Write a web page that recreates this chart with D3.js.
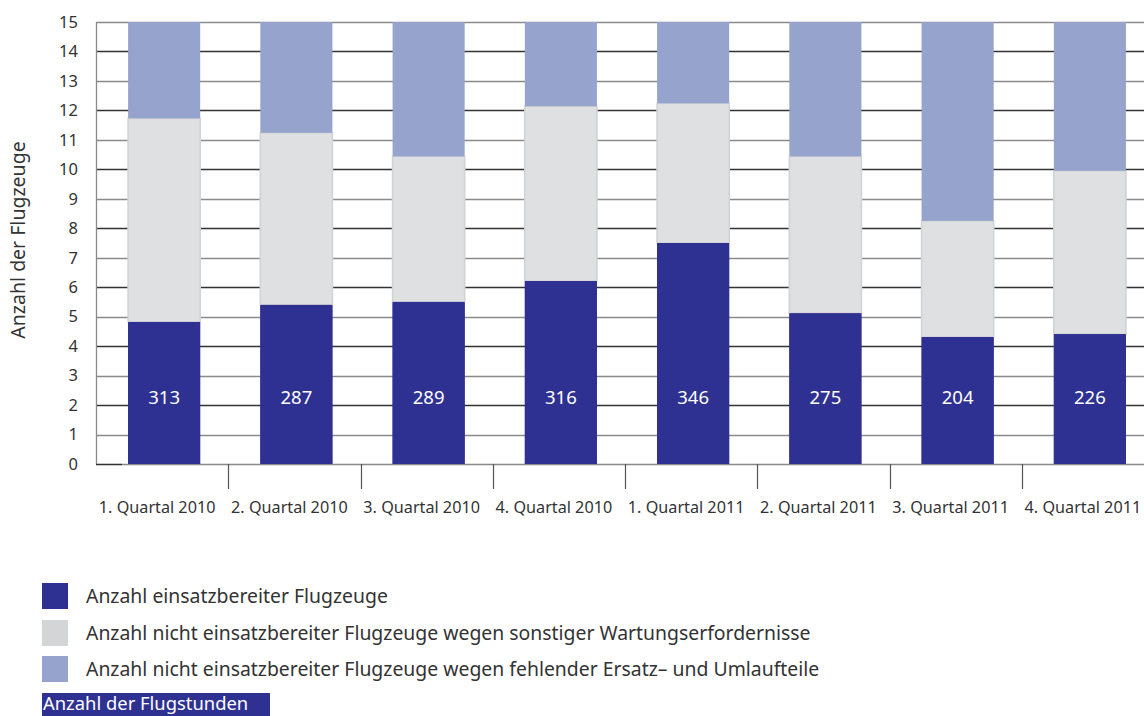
<!DOCTYPE html>
<html>
<head>
<meta charset="utf-8">
<script src="https://cdn.jsdelivr.net/npm/d3@7/dist/d3.min.js"></script>
<style>
  html, body { margin: 0; padding: 0; background: #fff; }
  svg { display: block; font-family: "Noto Sans", sans-serif; }
</style>
</head>
<body>
<svg id="chart" width="1144" height="716"></svg>
<script>
const categories = ["1. Quartal 2010", "2. Quartal 2010", "3. Quartal 2010", "4. Quartal 2010",
                    "1. Quartal 2011", "2. Quartal 2011", "3. Quartal 2011", "4. Quartal 2011"];
const ready       = [4.82, 5.40, 5.50, 6.21, 7.50, 5.12, 4.31, 4.41];
const maintenance = [6.91, 5.84, 4.94, 5.93, 4.74, 5.32, 3.94, 5.54];
const parts       = [3.27, 3.76, 4.56, 2.86, 2.76, 4.56, 6.75, 5.05];
const flightHours = [313, 287, 289, 316, 346, 275, 204, 226];
const yTicks = [0,1,2,3,4,5,6,7,8,9,10,11,12,13,14,15];
const seriesNames = ["Anzahl einsatzbereiter Flugzeuge",
  "Anzahl nicht einsatzbereiter Flugzeuge wegen sonstiger Wartungserfordernisse",
  "Anzahl nicht einsatzbereiter Flugzeuge wegen fehlender Ersatz\u2013 und Umlaufteile"];
const hoursLabel = "Anzahl der Flugstunden";
const yTitle = "Anzahl der Flugzeuge";

const colors = ["#2e3192", "#dfe0e2", "#96a4cd"];
const legendColors = ["#2e3192", "#d4d5d7", "#96a4cd"];

const svg = d3.select("#chart");
const mLeft = 96, mRight = 1154, mTop = 22, mBottom = 464;

const x = d3.scaleBand().domain(categories).range([mLeft + 2, mRight + 2]).paddingInner(0.455).paddingOuter(0.2275);
const y = d3.scaleLinear().domain([0, 15]).range([mBottom, mTop]);

// gridlines
svg.append("g").selectAll("line").data(yTicks).join("line")
  .attr("x1", mLeft).attr("x2", 1144)
  .attr("y1", d => Math.round(y(d)) + 0.5).attr("y2", d => Math.round(y(d)) + 0.5)
  .attr("stroke", d => d % 2 === 0 && d !== 0 ? "#333" : "#8a8a8a")
  .attr("stroke-width", 1.3);

// left border
svg.append("line").attr("x1", mLeft + 0.5).attr("x2", mLeft + 0.5)
  .attr("y1", y(15)).attr("y2", y(0)).attr("stroke", "#8a8a8a").attr("stroke-width", 1.3);
svg.append("line").attr("x1", mLeft).attr("x2", mLeft + 26)
  .attr("y1", Math.round(y(0)) + 0.5).attr("y2", Math.round(y(0)) + 0.5).attr("stroke", "#333").attr("stroke-width", 1.3);

// stacked data
const rows = categories.map((c, i) => ({cat: c, ready: ready[i], maintenance: maintenance[i], parts: parts[i]}));
const stack = d3.stack().keys(["ready", "maintenance", "parts"]);
const stacked = stack(rows);

const g = svg.append("g");
stacked.forEach((layer, li) => {
  g.append("g").selectAll("rect").data(layer).join("rect")
    .attr("x", d => x(d.data.cat))
    .attr("width", x.bandwidth())
    .attr("y", d => y(d[1]))
    .attr("height", d => y(d[0]) - y(d[1]))
    .attr("fill", colors[li])
    .attr("stroke", li === 1 ? "#d2d3d5" : "none")
    .attr("stroke-width", li === 1 ? 1.6 : 0);
});
// redraw dark segments on top so the light stroke doesn't overlap them
g.append("g").selectAll("rect").data(stacked[0]).join("rect")
  .attr("x", d => x(d.data.cat)).attr("width", x.bandwidth())
  .attr("y", d => y(d[1])).attr("height", d => y(d[0]) - y(d[1]))
  .attr("fill", colors[0]);

// value labels
g.append("g").selectAll("text").data(flightHours).join("text")
  .attr("x", (d, i) => x(categories[i]) + x.bandwidth() / 2)
  .attr("y", y(2.25))
  .attr("dy", "0.36em")
  .attr("text-anchor", "middle")
  .attr("fill", "#fff")
  .attr("font-size", 18.5)
  .text(d => d);

// y axis labels
const yAxis = d3.axisLeft(y).tickValues(yTicks).tickSize(0).tickPadding(18);
const ya = svg.append("g").attr("transform", `translate(${mLeft},0)`).call(yAxis);
ya.select(".domain").remove();
ya.selectAll("text").attr("font-size", 16.5).attr("fill", "#333").attr("font-family", "Noto Sans");

// x axis: labels at band centres, ticks at band boundaries
const xAxis = d3.axisBottom(x).tickSize(0).tickPadding(0);
const xa = svg.append("g").attr("transform", `translate(-7,${mBottom})`).call(xAxis);
xa.select(".domain").remove();
xa.selectAll("text").attr("font-size", 16.2).attr("fill", "#333").attr("y", 37).attr("font-family", "Noto Sans");

svg.append("g").selectAll("line").data(categories.slice(0, -1)).join("line")
  .attr("x1", d => Math.round(x(d) + x.step() * (1 - x.paddingInner() / 2)) - 1.5)
  .attr("x2", d => Math.round(x(d) + x.step() * (1 - x.paddingInner() / 2)) - 1.5)
  .attr("y1", mBottom).attr("y2", mBottom + 25)
  .attr("stroke", "#555").attr("stroke-width", 1.2);

// y title
svg.append("text")
  .attr("transform", `translate(25,${(mTop + mBottom) / 2 - 3}) rotate(-90)`)
  .attr("text-anchor", "middle")
  .attr("font-size", 19.5)
  .attr("fill", "#333")
  .text(yTitle);

// legend
const legY = [596, 633, 669];
const leg = svg.append("g");
seriesNames.forEach((name, i) => {
  leg.append("rect").attr("x", 42).attr("y", legY[i] - 13).attr("width", 26).attr("height", 26).attr("fill", legendColors[i]);
  leg.append("text").attr("x", 86).attr("y", legY[i]).attr("dy", "0.35em")
    .attr("font-size", 19.4).attr("fill", "#333").text(name);
});
leg.append("rect").attr("x", 42).attr("y", 693).attr("width", 228).attr("height", 23).attr("fill", colors[0]);
leg.append("text").attr("x", 43).attr("y", 710).attr("font-size", 18.4).attr("fill", "#fff").text(hoursLabel);
</script>
</body>
</html>
